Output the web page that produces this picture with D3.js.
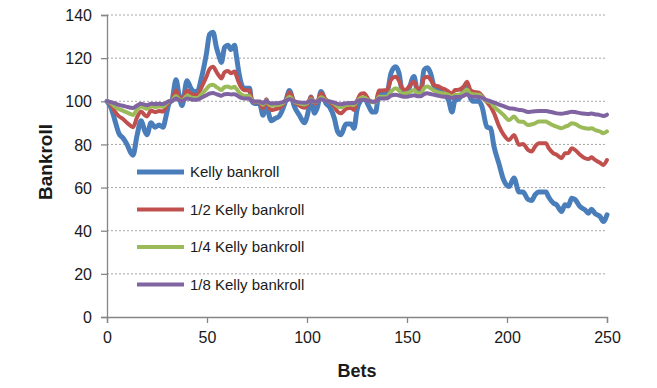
<!DOCTYPE html>
<html>
<head>
<meta charset="utf-8">
<script src="https://cdn.jsdelivr.net/npm/d3@7"></script>
<style>
  body { margin: 0; background: #fff; }
  svg { display: block; font-family: Arial, "Liberation Sans", sans-serif; }
</style>
</head>
<body>
<script>
const svgWidth = 657
const svgHeight = 388

const margin = { top: 15, right: 50, bottom: 71, left: 107 }
const chartWidth = svgWidth - margin.left - margin.right
const chartHeight = svgHeight - margin.top - margin.bottom

// bet number of each point
const bets = [0,2,4,6,8,10,12,13,15,17,
  19,20,22,24,26,28,29.5,31,32.5,34.5,
  36,37.5,40,42,43.8,45.5,47,49.7,51.3,53,
  54.7,56,57.2,58.8,60.5,62,63.8,64.7,66,67.2,
  68.5,71.3,72.2,73.8,76.3,78,79.7,80.5,82.2,84,
  86,87,89.5,91.2,93.7,96.2,98.7,100.3,102,103.7,
  105.3,107,109.5,111.2,113.7,115.3,117,119.5,122,123.5,
  125,127,128.5,131,132.7,134.3,136,137.7,140,142,
  144.3,146,147.7,149.3,151,153.5,155.2,157,158.5,160.2,
  161.8,163.5,166,167.5,169,170.8,172.5,174,175.8,178.3,
  180,181.7,183,186,187.5,190,191.8,193.5,196,198.3,
  201,203.5,206,208,210.5,212.3,214,216,219.5,220.7,
  223.2,224.8,227.3,229,230.7,232.3,234,236.5,239,240.7,
  242.3,244,246.5,248.2,250]

const kelly = [100,97,91,85,83,80,76,75,84,91,
  86,84.5,90,88,89,88,93,99,100.5,110,
  103,98,109.5,106,104.4,105,110,122,131,132,
  125,121,118,125,126,124,126,121,113,108,
  106,106,100.5,99,99,93.5,100.5,96,91,92,
  93,94.5,100.5,105,97.5,93.5,90,94,102,94.5,
  97.5,104.5,99,97.5,92,86,84.5,89.5,89.5,87.5,
  96,100.5,101.5,97.5,95,95,103.7,103.5,104,113,
  116,113,104,103,106,111.5,105,105,114.5,115.5,
  113,107,105,104,103,100.5,95,100.5,101,105,
  107.5,101.5,100,100,97.5,88,87.5,79,71,63.6,
  60.5,64.4,58,58,54.5,54,56.6,58,58,55.8,
  52.8,52,48.9,52,51.5,55.1,54.5,51.2,49.7,48.1,
  50,48,46.6,44.3,47.4]

const halfKelly = [100,98.5,95.2,93,91.8,90,88.5,88,92.5,95.3,
  93.5,93,95.7,95,95.5,95.2,97.5,99.8,100.5,105,
  102,100.3,105,103.5,102.9,103.2,106,111.4,115,116,
  113.7,111.8,110.6,113.5,114,113,113.8,111.8,108.5,106.3,
  105.2,105,101.5,99.5,99.5,96.8,101,98.3,96,96.3,
  96.8,97.5,100.8,104.2,99.8,98,97,98.5,102,99,
  100,103.7,100.8,99.8,97.5,95.2,94.4,96.5,97,96,
  100,103.5,103.7,100.6,99.8,99.8,105,105,105.2,109.9,
  111.4,109.5,106,105.2,106.8,109,106,106,110.6,111.4,
  110,107.5,106.8,106,105.5,104.5,103.5,105.2,105.3,106.8,
  109,105.2,104.4,104,102.5,99.5,97.5,94.5,88.5,84.5,
  82,84.4,79.8,80.2,77.5,76.7,79,80.5,80.5,78.5,
  75.9,75.2,73.6,75.9,76,78.2,77.5,75.2,73.6,73.2,
  74,72.8,71.5,70.5,72.8]

const quarterKelly = [100,99.2,97.5,96.3,95.6,94.8,94,93.7,96.2,97.6,
  96.8,96.5,97.8,97.4,97.6,97.5,98.7,99.9,100.3,102.5,
  101,100.2,102.6,101.8,101.5,101.6,103,105.7,107.3,107.7,
  106.6,105.8,105.2,106.6,106.8,106.3,106.7,105.8,104.2,103.2,
  102.6,102.5,100.8,99.8,99.8,98.4,100.5,99.2,98,98.2,
  98.4,98.7,100.4,102.1,99.9,99,98.5,99.3,101,99.5,
  100,101.9,100.4,99.9,98.8,97.6,97.2,98.2,98.5,98.3,
  100,101.6,101.7,100.2,99.6,99.6,102.1,102.1,102.2,104.4,
  106,105,103.5,103.7,104,105.2,103.7,103.7,106,106.8,
  106,105,104,103.7,103.5,103,102.1,103,103,104.2,
  105.5,103.5,103.3,103,102,100,99.5,97.5,95.5,93.6,
  91.3,92.9,90.6,90.5,89,89.3,89.8,90.6,90.6,90,
  88.8,88.2,87.5,88.2,88.8,89.8,89.5,88.2,87.5,87.3,
  87.5,86.7,86,85.2,86]

const eighthKelly = [100,99.6,99,98.3,97.9,97.4,97,96.9,98,98.8,
  98.4,98.2,98.9,98.7,98.8,98.7,99.3,100,100.1,101.3,
  100.5,100.1,101.3,100.9,100.7,100.8,101.5,102.8,103.6,103.8,
  103.3,102.9,102.6,103.3,103.4,103.2,103.3,102.9,102.1,101.6,
  101.3,101.2,100.4,99.9,99.9,99.2,100.2,99.6,99,99.1,
  99.2,99.4,100.2,101,100,99.5,99.3,99.6,100.5,99.8,
  100,100.9,100.2,99.9,99.4,98.8,98.6,99.1,99.2,99.2,
  100,100.6,100.7,100.1,99.8,99.8,101.3,101.3,101.4,102.6,
  103,102.7,102.2,102.1,102.3,102.8,102.3,102.3,103.3,103.7,
  103.4,103,102.5,102.2,102.1,102,101.5,102,102,102.5,
  103.3,102.2,102.1,102,101.6,100.5,100,99.4,98.5,97.7,
  96.8,96.5,96,95.8,95,95.2,95.4,95.5,95.5,95.3,
  94.8,94.4,94.2,94.5,94.8,95.2,95,94.5,94.2,94.1,
  94.3,94,93.6,93.2,93.8]

const seriesNames = ["Kelly bankroll", "1/2 Kelly bankroll", "1/4 Kelly bankroll", "1/8 Kelly bankroll"]
const seriesColors = ["#4a7ebb", "#c0504d", "#9bbb59", "#8064a2"]
const xTicks = [0, 50, 100, 150, 200, 250]
const yTicks = [0, 20, 40, 60, 80, 100, 120, 140]

const series = [kelly, halfKelly, quarterKelly, eighthKelly].map((values, i) => ({
  name: seriesNames[i],
  color: seriesColors[i],
  width: i === 0 ? 5 : 4,
  points: bets.map((b, j) => ({ bet: b, value: values[j] }))
}))

const svg = d3.select("body").append("svg")
  .attr("width", svgWidth)
  .attr("height", svgHeight)

const chartG = svg.append("g")
  .attr("transform", `translate(${margin.left}, ${margin.top})`)

const x = d3.scaleLinear()
  .domain([0, 250])
  .range([0, chartWidth])

const y = d3.scaleLinear()
  .domain([0, 140])
  .range([chartHeight, 0])

// dotted gridlines
chartG.append("g")
  .selectAll("line")
  .data(yTicks.filter(t => t > 0))
  .enter()
  .append("line")
  .attr("x1", 0)
  .attr("x2", chartWidth)
  .attr("y1", d => y(d))
  .attr("y2", d => y(d))
  .attr("stroke", "#a6a6a6")
  .attr("stroke-width", 1)
  .attr("stroke-dasharray", "2,2")

const yAxis = d3.axisLeft(y).tickValues(yTicks).tickSize(6).tickPadding(9)
const xAxis = d3.axisBottom(x).tickValues(xTicks).tickSize(6).tickPadding(9)

const yG = chartG.append("g").call(yAxis)
const xG = chartG.append("g")
  .attr("transform", `translate(0, ${chartHeight})`)
  .call(xAxis)

;[yG, xG].forEach(g => {
  g.select(".domain").attr("stroke", "#868686").attr("stroke-width", 1.3)
  g.selectAll(".tick line").attr("stroke", "#868686").attr("stroke-width", 1.3)
  g.selectAll(".tick text")
    .attr("fill", "#1a1a1a")
    .style("font-size", "16px")
    .style("font-family", "Arial, 'Liberation Sans', sans-serif")
})
yG.selectAll(".tick text").attr("dy", "0.35em")

const line = d3.line()
  .x(d => x(d.bet))
  .y(d => y(d.value))
  .curve(d3.curveMonotoneX)

chartG.selectAll(".series")
  .data(series)
  .enter()
  .append("path")
  .attr("class", "series")
  .attr("d", d => line(d.points))
  .attr("fill", "none")
  .attr("stroke", d => d.color)
  .attr("stroke-width", d => d.width)
  .attr("stroke-linejoin", "round")
  .attr("stroke-linecap", "round")

// legend
const legend = svg.append("g")
  .attr("transform", "translate(137, 172)")

const legendItems = legend.selectAll("g")
  .data(series)
  .enter()
  .append("g")
  .attr("transform", (d, i) => `translate(0, ${i * 37.5})`)

legendItems.append("line")
  .attr("x1", 0)
  .attr("x2", 47)
  .attr("stroke", d => d.color)
  .attr("stroke-width", d => d.width)

legendItems.append("text")
  .attr("x", 53)
  .attr("dy", "0.35em")
  .attr("fill", "#1a1a1a")
  .style("font-size", "15px")
  .text(d => d.name)

// axis titles
svg.append("text")
  .attr("x", margin.left + chartWidth / 2)
  .attr("y", 377)
  .attr("text-anchor", "middle")
  .attr("font-weight", "bold")
  .style("font-size", "18px")
  .attr("fill", "#1a1a1a")
  .text("Bets")

svg.append("text")
  .attr("transform", "translate(52, 162) rotate(-90)")
  .attr("text-anchor", "middle")
  .attr("font-weight", "bold")
  .style("font-size", "19px")
  .attr("fill", "#1a1a1a")
  .text("Bankroll")
</script>
</body>
</html>
